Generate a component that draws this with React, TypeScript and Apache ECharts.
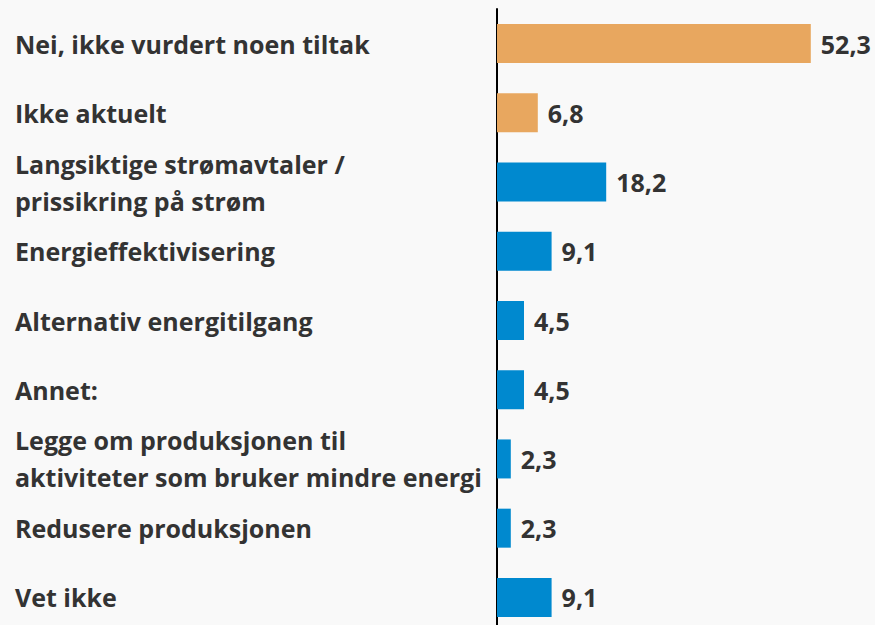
import React, { useEffect, useRef } from "react";
import * as echarts from "echarts";

const categories: string[] = [
  "Nei, ikke vurdert noen tiltak",
  "Ikke aktuelt",
  "Langsiktige strømavtaler /\nprissikring på strøm",
  "Energieffektivisering",
  "Alternativ energitilgang",
  "Annet:",
  "Legge om produksjonen til\naktiviteter som bruker mindre energi",
  "Redusere produksjonen",
  "Vet ikke",
];

const values: number[] = [52.3, 6.8, 18.2, 9.1, 4.5, 4.5, 2.3, 2.3, 9.1];

// "no" = no measures group (orange), "measure" = measures (blue)
const groups: string[] = ["no", "no", "measure", "measure", "measure", "measure", "measure", "measure", "measure"];

const ORANGE = "#E8A75F";
const BLUE = "#0089CF";
const FONT = "'Open Sans', 'Noto Sans', sans-serif";

export default function App() {
  const ref = useRef<HTMLDivElement>(null);

  useEffect(() => {
    document.body.style.margin = "0";
    document.body.style.overflow = "hidden";
    document.documentElement.style.overflow = "hidden";
    if (!ref.current) return;
    const chart = echarts.init(ref.current, null, { renderer: "svg" });
    chart.setOption({
      animation: false,
      backgroundColor: "#F9F9F9",
      grid: { left: 497, top: 9, width: 360, height: 623 },
      xAxis: {
        type: "value",
        min: 0,
        max: 60,
        show: false,
      },
      yAxis: {
        type: "category",
        data: categories,
        inverse: true,
        axisLine: { show: true, lineStyle: { color: "#000", width: 2 } },
        axisTick: { show: false },
        splitLine: { show: false },
        axisLabel: {
          align: "left",
          margin: 482,
          color: "#333",
          fontFamily: FONT,
          fontWeight: "bold",
          fontSize: 25,
          lineHeight: 37,
        },
      },
      series: [
        {
          type: "bar",
          barWidth: 39,
          data: values.map((v, i) => ({
            value: v,
            itemStyle: { color: groups[i] === "no" ? ORANGE : BLUE },
          })),
          label: {
            show: true,
            position: "right",
            distance: 10,
            color: "#333",
            fontFamily: FONT,
            fontWeight: "bold",
            fontSize: 25,
            formatter: (p: any) => Number(p.value).toFixed(1).replace(".", ","),
          },
        },
      ],
    });
    return () => chart.dispose();
  }, []);

  return (
    <div
      style={{
        position: "absolute",
        left: 0,
        top: 0,
        width: 875,
        height: 625,
        overflow: "hidden",
        background: "#F9F9F9",
      }}
    >
      <div ref={ref} style={{ width: 875, height: 645 }} />
    </div>
  );
}
